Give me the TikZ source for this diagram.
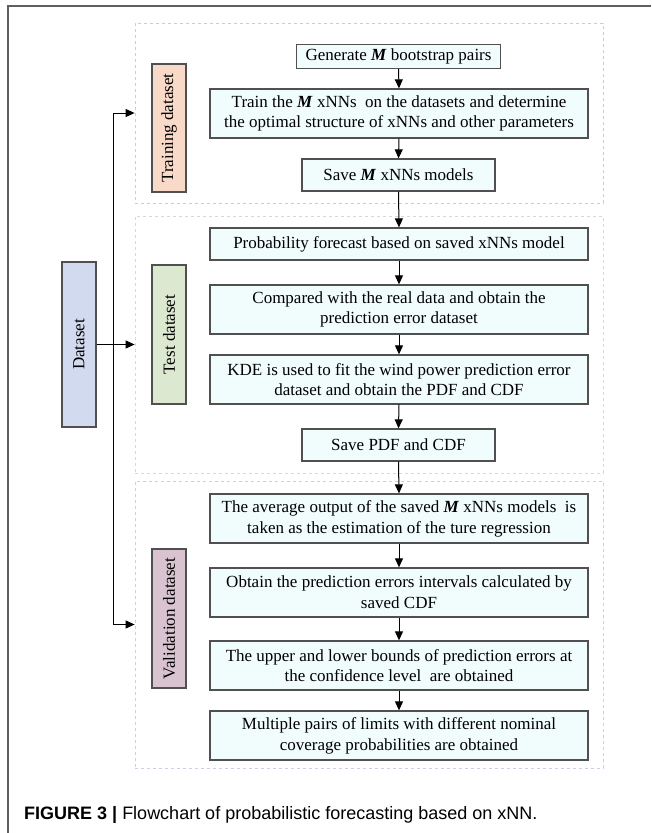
\documentclass[tikz,border=0pt]{standalone}
\usepackage{fontspec}
\setmainfont{Liberation Serif}
\newfontfamily\capfont{Liberation Sans}
\definecolor{boxcyan}{RGB}{241, 252, 252}
\definecolor{edgegray}{RGB}{80, 80, 80}
\definecolor{framegray}{RGB}{95, 95, 95}
\definecolor{trainpeach}{RGB}{249, 217, 200}
\definecolor{testgreen}{RGB}{220, 232, 207}
\definecolor{valmauve}{RGB}{217, 195, 208}
\definecolor{datablue}{RGB}{210, 218, 240}
\definecolor{traindash}{RGB}{242, 190, 175}
\definecolor{testdash}{RGB}{212, 220, 202}
\definecolor{valdash}{RGB}{212, 200, 235}
\usepackage{tikz}
\usetikzlibrary{arrows.meta, positioning, calc}

\begin{document}
\begin{tikzpicture}[
        x=1pt, y=-1pt,
        proc/.style={
            draw=edgegray,
            line width=1.3pt,
            fill=boxcyan,
            align=center,
            inner sep=0pt,
            minimum width=378pt,
            minimum height=49pt,
            font=\fontsize{17}{20.7}\selectfont
        },
        short/.style={proc, minimum width=193pt, minimum height=32pt},
        tag/.style={
            draw=edgegray,
            line width=1.3pt,
            minimum height=34pt,
            inner sep=0pt,
            rotate=90,
            font=\fontsize{17}{20}\selectfont
        },
        group/.style={dashed, line width=0.8pt, minimum width=468pt, inner sep=0pt},
        arr/.style={-{Triangle[length=9pt, width=8pt]}, line width=1pt, black}
    ]
        \useasboundingbox (0,0) rectangle (651,833);
        \fill[white] (0,0) rectangle (651,833);
        \draw[framegray, line width=1.6pt] (8,833) -- (8,6) -- (651,6);
        % Groups
        \node[group, draw=traindash, minimum height=180pt] (gtrain) at (369,113) {};
        \node[group, draw=testdash, minimum height=257pt] (gtest) at (369,344.5) {};
        \node[group, draw=valdash, minimum height=287pt] (gval) at (369,624.5) {};
        % Side tags
        \node[tag, fill=datablue, minimum width=165pt] (data) at (79,344.5) {Dataset};
        \node[tag, fill=trainpeach, minimum width=128pt] (ttrain) at (169,128) {Training dataset};
        \node[tag, fill=testgreen, minimum width=139pt] (ttest) at (169,334.5) {Test dataset};
        \node[tag, fill=valmauve, minimum width=139pt] (tval) at (169,618.5) {Validation dataset};
        % Training steps
        \node[short, minimum width=204pt, minimum height=24pt] (p1) at (398.5,56.5) {Generate \textbf{\textit{M}} bootstrap pairs};
        \node[proc] (p2) at (399,113.5) {Train the \textbf{\textit{M}} xNNs~ on the datasets and determine\\the optimal structure of xNNs and other parameters};
        \node[short] (p3) at (398.5,175) {Save \textbf{\textit{M}} xNNs models};
        % Test steps
        \node[proc, minimum height=32pt] (p4) at (399,244) {Probability forecast based on saved xNNs model};
        \node[proc] (p5) at (399,309.5) {Compared with the real data and obtain the\\prediction error dataset};
        \node[proc] (p6) at (399,379.5) {KDE is used to fit the wind power prediction error\\dataset and obtain the PDF and CDF};
        \node[short] (p7) at (398.5,445) {Save PDF and CDF};
        % Validation steps
        \node[proc] (p8) at (399,518.5) {The average output of the saved \textbf{\textit{M}} xNNs models~ is\\taken as the estimation of the ture regression};
        \node[proc] (p9) at (399,592.5) {Obtain the prediction errors intervals calculated by\\saved CDF};
        \node[proc] (p10) at (399,665.5) {The upper and lower bounds of prediction errors at\\the confidence level~ are obtained};
        \node[proc] (p11) at (399,735.5) {Multiple pairs of limits with different nominal\\coverage probabilities are obtained};
        % Caption
        \node[anchor=base west, inner sep=0pt, font=\capfont\fontsize{18}{22}\selectfont] (caption) at (24,819)
            {\textbf{FIGURE 3 |} Flowchart of probabilistic forecasting based on xNN.};
        % Arrows
        \coordinate (bus) at (113,344.5);
        \draw[arr] (data.south) -- (gtest.west);
        \draw[arr] (bus) |- (gtrain.west);
        \draw[arr] (bus) |- (gval.west);
        \foreach \a/\b in {p1/p2, p2/p3, p3/p4, p4/p5, p5/p6, p6/p7, p7/p8, p8/p9, p9/p10, p10/p11}
            \draw[arr] (\a.south) -- (\b.north);
    \end{tikzpicture}
\end{document}
